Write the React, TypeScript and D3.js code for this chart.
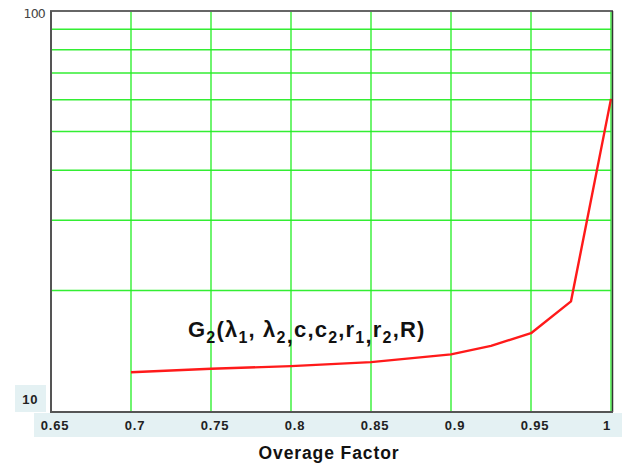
import React from "react";
import * as d3 from "d3";

const xValues = [0.7, 0.75, 0.8, 0.85, 0.9, 0.925, 0.95, 0.975, 1.0];
const yValues = [12.5, 12.75, 12.95, 13.25, 13.85, 14.55, 15.65, 18.8, 60.3];
const xTicks = [0.65, 0.7, 0.75, 0.8, 0.85, 0.9, 0.95, 1];
const xTickLabels = ["0.65", "0.7", "0.75", "0.8", "0.85", "0.9", "0.95", "1"];
const yGrid = [20, 30, 40, 50, 60, 70, 80, 90];
const xGrid = [0.7, 0.75, 0.8, 0.85, 0.9, 0.95, 1];
const xTitle = "Overage Factor";

export default function App() {
  const W = 622, H = 467;
  const left = 51, right = 611, top = 11, bottom = 411;
  const x = d3.scaleLinear().domain([0.65, 1]).range([left, right]);
  const y = d3.scaleLog().domain([10, 100]).range([bottom, top]);
  const line = d3.line<number>().x((_, i) => x(xValues[i])).y((d) => y(d));
  const font = "'Liberation Sans', Arial, sans-serif";
  return (
    <svg width={W} height={H} style={{ position: "absolute", left: 0, top: 0, background: "#fff" }}>
      <rect x={34} y={413} width={588} height={24} fill="#e4f1f3" />
      <rect x={15} y={385} width={31} height={27} fill="#e4f1f3" />
      <rect x={left} y={top} width={right - left} height={bottom - top} fill="#fff" />
      {yGrid.map((v) => (
        <line key={"h" + v} x1={left} x2={right} y1={y(v)} y2={y(v)} stroke="#33ee33" strokeWidth={1.5} />
      ))}
      {xGrid.map((v) => (
        <line key={"v" + v} x1={x(v)} x2={x(v)} y1={top} y2={bottom} stroke="#22ee22" strokeWidth={1.3} />
      ))}
      <path d={line(yValues) || ""} fill="none" stroke="#ff1a1a" strokeWidth={2.4} strokeLinejoin="round" />
      <line x1={left - 1} x2={right + 2} y1={top} y2={top} stroke="#666" strokeWidth={2} />
      <line x1={right + 1.5} x2={right + 1.5} y1={top} y2={bottom + 1} stroke="#333" strokeWidth={1.5} />
      <line x1={left} x2={left} y1={top} y2={bottom + 1} stroke="#555" strokeWidth={2} />
      <line x1={left - 1} x2={right + 2} y1={bottom + 1} y2={bottom + 1} stroke="#555" strokeWidth={2} />
      <text x={45} y={18} textAnchor="end" fontFamily="'DejaVu Sans', sans-serif" fontSize={12.5} fill="#444" letterSpacing={-0.8}>100</text>
      <text x={38} y={404} textAnchor="end" fontFamily={font} fontWeight="bold" fontSize={13} fill="#222" letterSpacing={0.6}>10</text>
      {xTicks.map((v, i) => (
        <text key={"t" + v} x={x(v) + (i === xTicks.length - 1 ? -4 : 4)} y={430} textAnchor="middle" fontFamily={font} fontWeight="bold" fontSize={13} fill="#222" letterSpacing={0.8}>
          {xTickLabels[i]}
        </text>
      ))}
      <text x={329} y={459} textAnchor="middle" fontFamily={font} fontWeight="bold" fontSize={17.5} fill="#111" letterSpacing={0.9}>{xTitle}</text>
      <text x={188} y={337} fontFamily={font} fontWeight="bold" fontSize={22} fill="#111" letterSpacing={1.2}>
        G<tspan fontSize={16} dy={6}>2</tspan>
        <tspan dy={-6}>(λ</tspan><tspan fontSize={16} dy={6}>1</tspan>
        <tspan dy={-6}>, λ</tspan><tspan fontSize={16} dy={6}>2</tspan>
        <tspan dy={0}>,</tspan>
        <tspan dy={-6}>c,c</tspan><tspan fontSize={16} dy={6}>2</tspan>
        <tspan dy={-6}>,r</tspan><tspan fontSize={16} dy={6}>1</tspan>
        <tspan dy={0}>,</tspan>
        <tspan dy={-6}>r</tspan><tspan fontSize={16} dy={6}>2</tspan>
        <tspan dy={-6}>,R)</tspan>
      </text>
    </svg>
  );
}
